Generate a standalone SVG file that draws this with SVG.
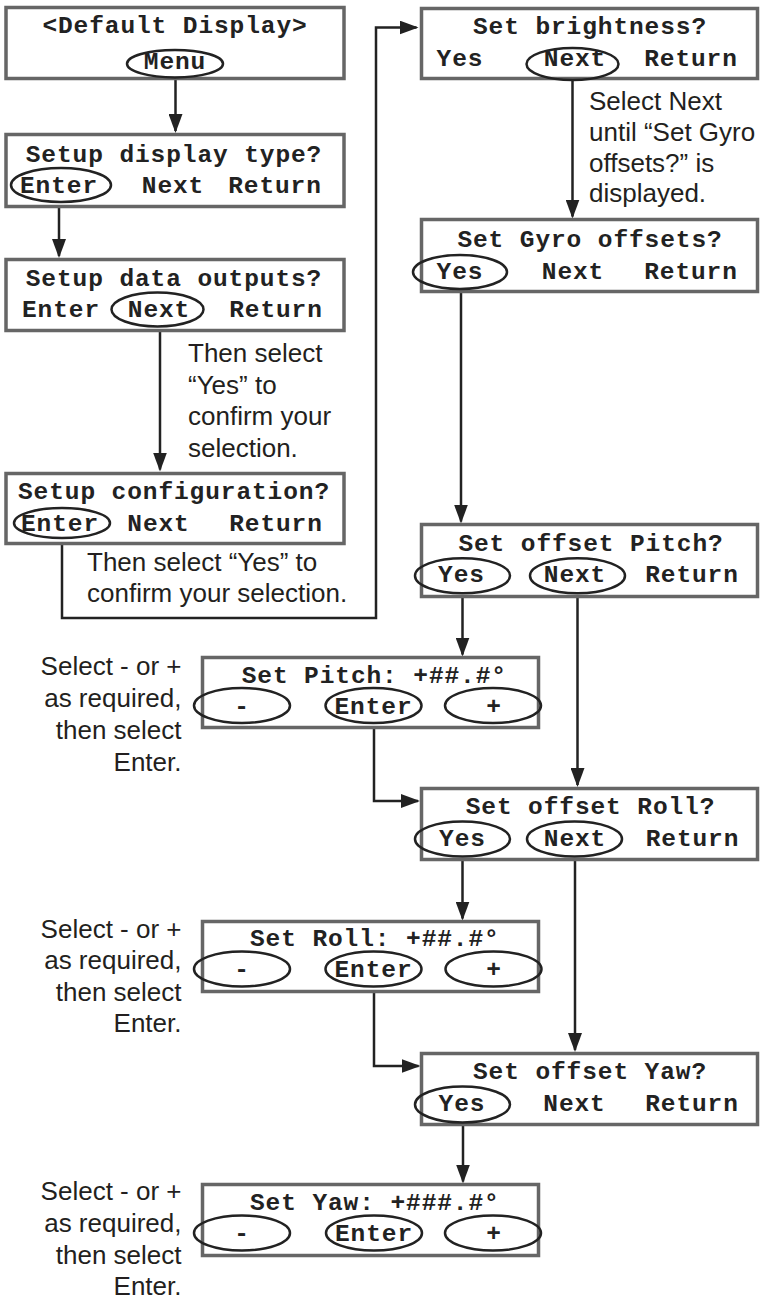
<svg xmlns="http://www.w3.org/2000/svg" width="761" height="1302" viewBox="0 0 761 1302">
<style>
.box{fill:#fff;stroke:#666;stroke-width:3.5}
.ov{fill:none;stroke:#222;stroke-width:2.5}
.m{font-family:"Liberation Mono","Courier New",monospace;font-weight:bold;font-size:24.5px;letter-spacing:0.9px;fill:#222;text-anchor:middle}
.ms{font-family:"Liberation Mono","Courier New",monospace;font-weight:bold;font-size:24.5px;letter-spacing:0.9px;fill:#222}
.s{font-family:"Liberation Sans",Arial,sans-serif;font-size:26px;fill:#231f20}
.r{text-anchor:end}
.c{fill:none;stroke:#222;stroke-width:2.5}
</style>
<defs>
<marker id="ah" markerUnits="userSpaceOnUse" markerWidth="19" markerHeight="14" refX="17" refY="7" orient="auto">
<path d="M0,0 L19,7 L0,14 z" fill="#222"/>
</marker>
</defs>

<g id="connectors">
<path class="c" d="M175.5,77.5 V131" marker-end="url(#ah)"/>
<path class="c" d="M59,202 V256" marker-end="url(#ah)"/>
<path class="c" d="M160,326.5 V469.5" marker-end="url(#ah)"/>
<path class="c" d="M62,538 V618 H376 V27.5 H416.5" marker-end="url(#ah)"/>
<path class="c" d="M572.5,80 V216.5" marker-end="url(#ah)"/>
<path class="c" d="M461,289 V521.5" marker-end="url(#ah)"/>
<path class="c" d="M462.5,593.2 V654.5" marker-end="url(#ah)"/>
<path class="c" d="M577.5,593.2 V785" marker-end="url(#ah)"/>
<path class="c" d="M374,723 V801 H418" marker-end="url(#ah)"/>
<path class="c" d="M462.5,856.5 V918.5" marker-end="url(#ah)"/>
<path class="c" d="M575,856.5 V1050" marker-end="url(#ah)"/>
<path class="c" d="M374,986.5 V1066 H418.5" marker-end="url(#ah)"/>
<path class="c" d="M463,1122.5 V1181.5" marker-end="url(#ah)"/>
</g>

<g id="default-display">
<rect class="box" x="6" y="7.5" width="338" height="71"/>
<text class="m" x="175" y="33">&lt;Default Display&gt;</text>
<ellipse class="ov" cx="175" cy="63.7" rx="48" ry="13.7"/>
<text class="m" x="175" y="69">Menu</text>
</g>

<g id="setup-display-type">
<rect class="box" x="6" y="134.5" width="338" height="72"/>
<text class="m" x="174" y="161.5">Setup display type?</text>
<ellipse class="ov" cx="61" cy="185" rx="50" ry="17"/>
<text class="m" x="59" y="193">Enter</text>
<text class="m" x="173" y="193">Next</text>
<text class="m" x="275" y="193">Return</text>
</g>

<g id="setup-data-outputs">
<rect class="box" x="6" y="259.5" width="338" height="71"/>
<text class="m" x="174" y="285.5">Setup data outputs?</text>
<ellipse class="ov" cx="157.5" cy="309.5" rx="46" ry="17"/>
<text class="m" x="61" y="317">Enter</text>
<text class="m" x="159" y="317">Next</text>
<text class="m" x="276" y="317">Return</text>
</g>
<g id="note-data-outputs">
<text class="s" x="188" y="362">Then select</text>
<text class="s" x="188" y="393.5">“Yes” to</text>
<text class="s" x="188" y="425">confirm your</text>
<text class="s" x="188" y="456.5">selection.</text>
</g>

<g id="setup-configuration">
<rect class="box" x="6" y="473.5" width="338" height="70"/>
<text class="m" x="174" y="499">Setup configuration?</text>
<ellipse class="ov" cx="62" cy="523" rx="48" ry="15"/>
<text class="m" x="60" y="530.5">Enter</text>
<text class="m" x="158.5" y="530.5">Next</text>
<text class="m" x="276" y="530.5">Return</text>
</g>
<g id="note-configuration">
<text class="s" x="87" y="571">Then select “Yes” to</text>
<text class="s" x="87" y="602">confirm your selection.</text>
</g>

<g id="set-brightness">
<rect class="box" x="421.5" y="8.5" width="336" height="70"/>
<text class="m" x="590" y="33.5">Set brightness?</text>
<ellipse class="ov" cx="572.5" cy="64" rx="46" ry="16"/>
<text class="m" x="460" y="65.5">Yes</text>
<text class="m" x="575" y="65.5">Next</text>
<text class="m" x="691" y="65.5">Return</text>
</g>
<g id="note-brightness">
<text class="s" x="589" y="110">Select Next</text>
<text class="s" x="589" y="141">until “Set Gyro</text>
<text class="s" x="589" y="171.5">offsets?” is</text>
<text class="s" x="589" y="202">displayed.</text>
</g>

<g id="set-gyro-offsets">
<rect class="box" x="421.5" y="219.5" width="336" height="72"/>
<text class="m" x="590" y="246.5">Set Gyro offsets?</text>
<ellipse class="ov" cx="460" cy="272" rx="47" ry="17"/>
<text class="m" x="460" y="278.5">Yes</text>
<text class="m" x="573" y="278.5">Next</text>
<text class="m" x="691" y="278.5">Return</text>
</g>

<g id="set-offset-pitch">
<rect class="box" x="421.5" y="524.5" width="336" height="72"/>
<text class="m" x="591" y="550.5">Set offset Pitch?</text>
<ellipse class="ov" cx="462.5" cy="575.7" rx="47.5" ry="17.5"/>
<ellipse class="ov" cx="577.5" cy="575.7" rx="47.5" ry="17.5"/>
<text class="m" x="461.5" y="582">Yes</text>
<text class="m" x="575" y="582">Next</text>
<text class="m" x="692" y="582">Return</text>
</g>

<g id="set-pitch">
<rect class="box" x="202.5" y="657.5" width="336" height="70"/>
<text class="ms" x="241.7" y="683">Set Pitch: +##.#°</text>
<ellipse class="ov" cx="242" cy="705.5" rx="48" ry="17.5"/>
<ellipse class="ov" cx="373.5" cy="705.5" rx="48" ry="17.5"/>
<ellipse class="ov" cx="493" cy="705.5" rx="48" ry="17.5"/>
<text class="m" x="242" y="713.5">-</text>
<text class="m" x="373.5" y="713.5">Enter</text>
<text class="m" x="494" y="713.5">+</text>
</g>
<g id="note-pitch">
<text class="s r" x="181.5" y="675">Select - or +</text>
<text class="s r" x="181.5" y="707">as required,</text>
<text class="s r" x="181.5" y="739">then select</text>
<text class="s r" x="181.5" y="771">Enter.</text>
</g>

<g id="set-offset-roll">
<rect class="box" x="421.5" y="788.5" width="336" height="71"/>
<text class="m" x="590.5" y="814">Set offset Roll?</text>
<ellipse class="ov" cx="462.5" cy="839" rx="47.5" ry="17.5"/>
<ellipse class="ov" cx="574.5" cy="839" rx="47.5" ry="17.5"/>
<text class="m" x="462.5" y="846">Yes</text>
<text class="m" x="575" y="846">Next</text>
<text class="m" x="692.5" y="846">Return</text>
</g>

<g id="set-roll">
<rect class="box" x="202.5" y="921.5" width="336" height="70"/>
<text class="ms" x="250" y="946">Set Roll: +##.#°</text>
<ellipse class="ov" cx="242" cy="969" rx="48" ry="17.5"/>
<ellipse class="ov" cx="373.5" cy="969" rx="48" ry="17.5"/>
<ellipse class="ov" cx="493.5" cy="969" rx="48" ry="17.5"/>
<text class="m" x="242" y="977">-</text>
<text class="m" x="373.5" y="977">Enter</text>
<text class="m" x="494" y="977">+</text>
</g>
<g id="note-roll">
<text class="s r" x="181.5" y="937.5">Select - or +</text>
<text class="s r" x="181.5" y="969">as required,</text>
<text class="s r" x="181.5" y="1000.5">then select</text>
<text class="s r" x="181.5" y="1032">Enter.</text>
</g>

<g id="set-offset-yaw">
<rect class="box" x="421.5" y="1053.5" width="336" height="71"/>
<text class="m" x="590" y="1079">Set offset Yaw?</text>
<ellipse class="ov" cx="462.5" cy="1104.5" rx="47.5" ry="18"/>
<text class="m" x="462" y="1111">Yes</text>
<text class="m" x="574.5" y="1111">Next</text>
<text class="m" x="692" y="1111">Return</text>
</g>

<g id="set-yaw">
<rect class="box" x="202.5" y="1184.5" width="336" height="71"/>
<text class="ms" x="250" y="1210">Set Yaw: +###.#°</text>
<ellipse class="ov" cx="242" cy="1233" rx="48" ry="17.5"/>
<ellipse class="ov" cx="374" cy="1233" rx="48" ry="17.5"/>
<ellipse class="ov" cx="493" cy="1233" rx="48" ry="17.5"/>
<text class="m" x="242" y="1241">-</text>
<text class="m" x="374" y="1241">Enter</text>
<text class="m" x="494" y="1241">+</text>
</g>
<g id="note-yaw">
<text class="s r" x="181.5" y="1200">Select - or +</text>
<text class="s r" x="181.5" y="1232">as required,</text>
<text class="s r" x="181.5" y="1263.5">then select</text>
<text class="s r" x="181.5" y="1295">Enter.</text>
</g>
</svg>
